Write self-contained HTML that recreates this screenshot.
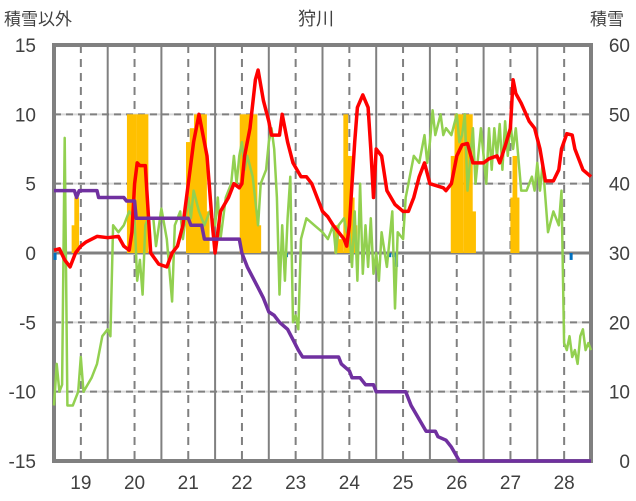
<!DOCTYPE html>
<html><head><meta charset="utf-8"><style>
body{margin:0;background:#fff;}
svg{display:block;font-family:"Liberation Sans","Noto Sans CJK JP",sans-serif;}
</style></head><body>
<svg id="chart" width="636" height="501">
<g id="grid"></g>
<g id="bars"></g>
<g id="lines"></g>
<g id="axes"></g>
<text x="316" y="25" text-anchor="middle" font-size="18" fill="#404040">狩川</text>
<text x="4" y="25" font-size="17" fill="#404040">積雪以外</text>
<text x="590" y="25" font-size="17" fill="#404040">積雪</text>
</svg>
<script>
const dayTicks=[19,20,21,22,23,24,25,26,27,28];
const leftTicks=[15,10,5,0,-5,-10,-15];
const rightTicks=[60,50,40,30,20,10,0];
const redT=[18.5,18.6,18.7,18.8,18.9,19.0,19.1,19.3,19.5,19.7,19.8,19.9,19.95,20.0,20.05,20.1,20.2,20.3,20.45,20.6,20.7,20.8,20.9,21.0,21.1,21.2,21.35,21.45,21.5,21.6,21.75,21.85,21.95,22.0,22.05,22.15,22.25,22.3,22.4,22.5,22.55,22.7,22.75,22.85,22.95,23.1,23.2,23.3,23.4,23.5,23.6,23.7,23.8,23.9,23.95,24.0,24.05,24.1,24.15,24.25,24.35,24.4,24.45,24.5,24.6,24.7,24.85,25.0,25.1,25.2,25.3,25.4,25.5,25.75,25.8,25.9,26.0,26.1,26.2,26.3,26.5,26.6,26.75,26.8,26.9,27.0,27.05,27.1,27.2,27.35,27.45,27.55,27.65,27.8,27.9,27.95,28.05,28.15,28.2,28.35,28.5];
const redV=[0.2,0.3,-0.5,-1,0,0.5,0.8,1.2,1.1,1.2,0.5,0.2,1.5,5,6.5,6.3,6.3,0,-0.8,-1,0,0.5,2,5,8,10,7,2,0,3,4,5,4.7,5,7,9,12.5,13.2,11,9.5,8.5,8.5,10,8,6.5,5.5,5.5,5,4,3,2.6,2,1.5,1,0.5,2,5,8,10.5,11.4,10.5,7.5,4,7.5,7,4.5,3.5,3,3,4,5.5,6.5,5,4.7,4.5,5,7,7.8,7.9,6.5,6.5,6.8,7,6.5,7.7,9,12.5,11.5,10.8,9.5,9,7.5,5.2,5.2,6,7.5,8.6,8.5,7.5,6,5.5];
const greenT=[18.5,18.55,18.6,18.65,18.7,18.75,18.85,18.95,19.0,19.05,19.2,19.3,19.4,19.5,19.55,19.6,19.7,19.8,19.9,20.0,20.05,20.1,20.15,20.2,20.25,20.35,20.4,20.5,20.6,20.7,20.75,20.85,20.9,21.0,21.05,21.1,21.2,21.3,21.4,21.5,21.55,21.6,21.7,21.8,21.85,21.9,21.95,22.0,22.05,22.1,22.2,22.3,22.35,22.45,22.5,22.55,22.6,22.65,22.7,22.75,22.8,22.85,22.9,22.95,23.0,23.05,23.1,23.2,23.35,23.5,23.6,23.7,23.75,23.8,23.9,23.95,24.0,24.05,24.1,24.15,24.2,24.25,24.3,24.35,24.4,24.45,24.5,24.55,24.6,24.7,24.8,24.85,24.9,25.0,25.05,25.1,25.2,25.3,25.4,25.45,25.5,25.55,25.6,25.7,25.75,25.8,25.9,26.0,26.05,26.1,26.15,26.2,26.3,26.35,26.45,26.5,26.55,26.6,26.65,26.7,26.75,26.8,26.85,26.9,26.95,27.0,27.05,27.1,27.2,27.3,27.4,27.45,27.5,27.55,27.6,27.7,27.8,27.9,27.95,28.0,28.05,28.1,28.15,28.2,28.25,28.3,28.35,28.4,28.45,28.5];
const greenV=[-11,-8,-10,-9.5,8.3,-11,-11,-10,-7.5,-10,-9,-8,-6,-5.5,-6,2,1.5,2,3,2.5,-2,-0.5,-3,2,2.5,2.5,0.5,3.2,1,-3.5,2,3,1,4,2.5,4.5,3,2,3,2,4,1,4,5,7,5,7,8,6,7,5.5,2,5,6,8,9,7.5,4,-3,2,-2,2.5,5.5,-5,-4.5,-5.5,1,2.5,2,1.5,1,2,0,2,2.5,1.5,1.5,-1,3,-2,5,-1.5,2,-1,2.5,-1.5,0,-2,1.5,-1,3,-4,1.5,1,4,5,7,6.5,8.5,6.5,8,10.3,8.5,10,8.5,9,8.5,10,8,8.5,10,4.5,9,5,9,7,5,9,6,9,7,9.3,6,9.5,7,9.5,7.5,9,4.5,4.5,5.5,4.5,6.5,4.5,6.5,1.5,3,2,4.5,-6.5,-7,-6,-7.5,-7,-8,-6,-5.5,-7,-6.5,-7];
const snowT=[18.5,18.88,18.92,18.97,19.3,19.33,19.8,19.85,20.0,20.03,21.0,21.05,21.25,21.3,21.95,22.0,22.1,22.2,22.3,22.4,22.5,22.6,22.7,22.85,22.95,23.05,23.13,23.8,23.85,24.0,24.05,24.2,24.3,24.45,24.5,25.05,25.15,25.3,25.43,25.6,25.65,25.8,25.9,26.05,28.5];
const snowV=[39,39,38,39,39,38,38,37.5,37.5,35,35,34,34,32,32,30,28,26.5,25,23.5,21.5,21,20,19,17.5,16,15,15,14,13,12,12,11,11,10,10,8,6,4.3,4.3,3.5,3,2,0,0];
const orangeT=[18.87,18.92,19.9,19.98,20.07,20.15,20.21,21.0,21.07,21.15,21.22,21.3,21.35,22.0,22.08,22.16,22.24,22.31,23.76,23.84,23.93,24.0,24.05,24.1,25.93,26.0,26.08,26.17,26.25,26.31,27.04,27.08,27.12];
const orangeV=[2,4,10,10,10,10,10,8,9,10,10,10,3,10,10,10,10,2,2,1,10,7,4,2,7,10,10,10,10,3,4,7,4];
const blueT=[18.52,22.83,24.75,24.82,24.88,28.13];
const blueV=[-0.5,-0.3,-0.3,-0.3,-1,-0.5];

const L=54,R=591,T=45,B=461;
const x=d=>L+(d-18.5)*(R-L)/10;
const yL=v=>T+(15-v)*(B-T)/30;
const yR=v=>T+(60-v)*(B-T)/60;
const NS='http://www.w3.org/2000/svg';
function mk(tag,parent,attrs){const e=document.createElementNS(NS,tag);for(const k in attrs)e.setAttribute(k,attrs[k]);document.getElementById(parent).appendChild(e);return e;}

leftTicks.forEach(v=>{
  if(v===15||v===-15)return;
  if(v===0){const e=mk('line','grid',{x1:L,x2:R,y1:yL(0),y2:yL(0),stroke:'#808080','stroke-width':3});
  
  return;}
  const a=mk('line','grid',{x1:L,x2:R,y1:yL(v),y2:yL(v),stroke:'#d9d9d9','stroke-width':2});
  
  
  const b=mk('line','grid',{x1:L,x2:R,y1:yL(v),y2:yL(v),stroke:'#808080','stroke-width':2,'stroke-dasharray':'7,5'});
  
  
});
dayTicks.forEach(d=>{
  const a=mk('line','grid',{x1:x(d),x2:x(d),y1:T,y2:B,stroke:'#808080','stroke-width':2,'stroke-dasharray':'8,6'});
  
  
  if(d<28.5){const b=mk('line','grid',{x1:x(d+0.5),x2:x(d+0.5),y1:T,y2:B,stroke:'#808080','stroke-width':2});
  
  }
});
const f=mk('rect','grid',{x:L,y:T,width:R-L,height:B-T,fill:'none',stroke:'#808080','stroke-width':4});



const bw=(R-L)/10/12;
orangeT.forEach((d,i)=>{
  const v=orangeV[i];
  const e=mk('rect','bars',{x:x(d)-bw/2,y:yL(v),width:bw+0.3,height:yL(0)-yL(v),fill:'#ffc000'});
  
  
});
blueT.forEach((d,i)=>{
  const v=blueV[i];
  const e=mk('rect','bars',{x:x(d)-1.5,y:yL(0),width:3,height:yL(v)-yL(0),fill:'#0070c0'});
  
  
});
function line(ts,vs,fy,col,w,name){
  const pts=ts.map((t,i)=>x(t).toFixed(1)+','+fy(vs[i]).toFixed(1)).join(' ');
  const e=mk('polyline','lines',{points:pts,fill:'none',stroke:col,'stroke-width':w,'stroke-linejoin':'round'});
  
  
}
line(greenT,greenV,yL,'#92d050',2.5,'green-series');
line(redT,redV,yL,'#ff0000',3.5,'temperature-line');
line(snowT,snowV,yR,'#7030a0',3.5,'snow-depth-line');

leftTicks.forEach(v=>{
  const e=mk('text','axes',{x:36,y:yL(v)+7,'text-anchor':'end','font-size':19,fill:'#404040'});
  e.textContent=v;
  
  
});
rightTicks.forEach(v=>{
  const e=mk('text','axes',{x:630,y:yR(v)+7,'text-anchor':'end','font-size':19,fill:'#404040'});
  e.textContent=v;
  
  
});
dayTicks.forEach(d=>{
  const e=mk('text','axes',{x:x(d),y:489,'text-anchor':'middle','font-size':19,fill:'#404040'});
  e.textContent=d;
  
  
});
</script>
</body></html>
